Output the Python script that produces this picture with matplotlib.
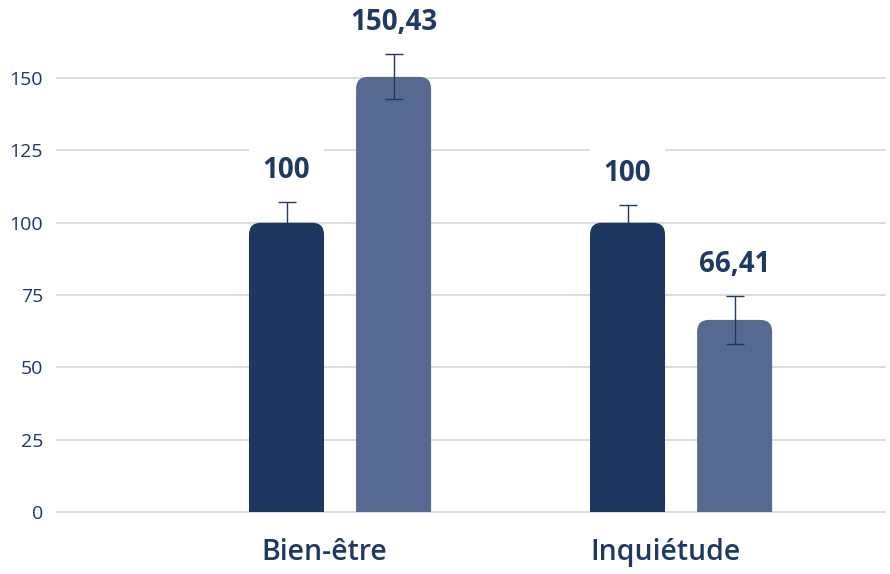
import matplotlib
matplotlib.use("Agg")
import matplotlib.pyplot as plt
from matplotlib.patches import FancyBboxPatch, Rectangle

plt.rcParams["font.family"] = ["Open Sans", "DejaVu Sans"]

# chart data
categories = ["Bien-être", "Inquiétude"]
reference = [100, 100]
scores = [150.43, 66.41]
reference_err = [7.0, 6.0]
scores_err = [7.8, 8.2]
value_labels_ref = ["100", "100"]
value_labels_score = ["150,43", "66,41"]
yticks = [0, 25, 50, 75, 100, 125, 150]

DARK = "#1e3761"
LIGHT = "#566a91"
TEXT = "#1f3864"
GRID = "#d9d9d9"

fig = plt.figure(figsize=(8.9, 5.74), dpi=100)
ax = fig.add_axes([57 / 890, 1 - 512 / 574, (885 - 57) / 890, 512 / 574])
ax.set_xlim(-0.83, 1.598)
ax.set_ylim(0, 177)

bar_w = 0.22
offset = 0.157
px_x = 341.0          # pixels per x unit
px_y = 512 / 177.0    # pixels per y unit
radius_px = 12
rounding = radius_px / px_x
aspect = (radius_px / px_y) / rounding

# keep the squared-off bottom of each bar hidden below the baseline
clip = Rectangle((-0.83, 0), 2.5, 200, transform=ax.transData)

for i, cat in enumerate(categories):
    for x, val, err, lab, col in [
        (i - offset, reference[i], reference_err[i], value_labels_ref[i], DARK),
        (i + offset, scores[i], scores_err[i], value_labels_score[i], LIGHT),
    ]:
        patch = FancyBboxPatch((x - bar_w / 2, -20), bar_w, val + 20,
                               boxstyle=f"round,pad=0,rounding_size={rounding}",
                               mutation_aspect=aspect, facecolor=col,
                               edgecolor="none", zorder=3)
        patch.set_clip_path(clip)
        ax.add_patch(patch)
        ax.errorbar(x, val, yerr=err, color=TEXT, elinewidth=1.0,
                    capsize=6.5, capthick=1.0, zorder=4)
        ax.annotate(lab, (x, val + err), xytext=(0, 23), textcoords="offset points",
                    ha="center", va="center", fontsize=20, fontweight="bold",
                    color=TEXT, zorder=5,
                    bbox=dict(boxstyle="square,pad=0.5", fc="white", ec="none"))

ax.set_yticks(yticks)
ax.set_yticklabels([str(t) for t in yticks], fontsize=14, color=TEXT)
ax.set_xticks([i - 0.045 for i in range(len(categories))])
ax.set_xticklabels(categories, fontsize=20.5, fontweight="semibold", color=TEXT)
ax.tick_params(axis="both", length=0)
ax.tick_params(axis="y", pad=10)
ax.tick_params(axis="x", pad=19)

for t in yticks:
    ax.axhline(t, color=GRID, linewidth=1.3, zorder=1, clip_on=False)

for s in ax.spines.values():
    s.set_visible(False)

fig.savefig("out.png", dpi=100)
